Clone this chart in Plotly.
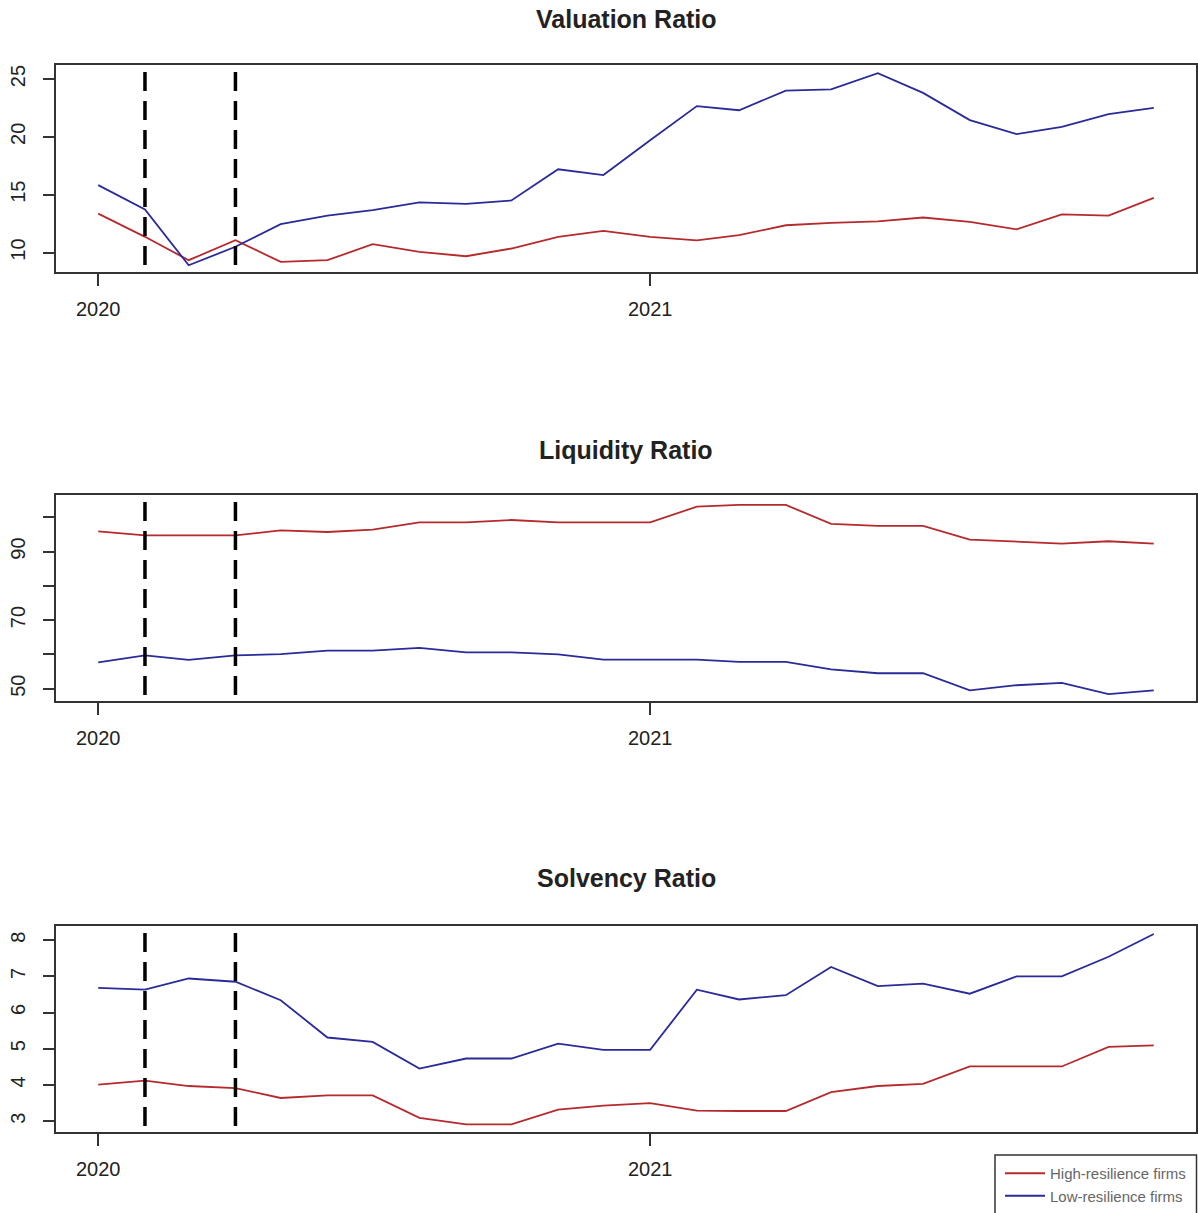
import plotly.graph_objects as go

months = ["2020-01-01", "2020-02-01", "2020-03-01", "2020-04-01", "2020-05-01", "2020-06-01",
          "2020-07-01", "2020-08-01", "2020-09-01", "2020-10-01", "2020-11-01", "2020-12-01",
          "2021-01-01", "2021-02-01", "2021-03-01", "2021-04-01", "2021-05-01", "2021-06-01",
          "2021-07-01", "2021-08-01", "2021-09-01", "2021-10-01", "2021-11-01", "2021-12-01"]

event_dates = ["2020-02-01", "2020-04-01"]

series_names = ["High-resilience firms", "Low-resilience firms"]
titles = ["Valuation Ratio", "Liquidity Ratio", "Solvency Ratio"]

valuation_high = [13.37, 11.36, 9.34, 11.07, 9.19, 9.34, 10.72, 10.06, 9.68, 10.35, 11.36, 11.87,
                  11.35, 11.06, 11.5, 12.36, 12.56, 12.7, 13.03, 12.65, 12.0, 13.3, 13.2, 14.73]
valuation_low = [15.83, 13.72, 8.9, 10.5, 12.45, 13.2, 13.66, 14.33, 14.2, 14.5, 17.2, 16.7,
                 19.7, 22.66, 22.3, 24.0, 24.1, 25.5, 23.8, 21.45, 20.24, 20.87, 21.97, 22.5]

liquidity_high = [95.9, 94.7, 94.7, 94.7, 96.2, 95.7, 96.4, 98.5, 98.5, 99.2, 98.5, 98.5,
                  98.5, 103.1, 103.6, 103.6, 98.1, 97.5, 97.5, 93.5, 93.0, 92.3, 93.0, 92.3]
liquidity_low = [57.7, 59.7, 58.4, 59.7, 60.1, 61.1, 61.1, 61.9, 60.6, 60.6, 60.0, 58.5,
                 58.5, 58.5, 57.8, 57.8, 55.6, 54.5, 54.5, 49.5, 51.0, 51.7, 48.4, 49.5]

solvency_high = [4.01, 4.12, 3.97, 3.91, 3.64, 3.71, 3.71, 3.09, 2.91, 2.91, 3.32, 3.43,
                 3.50, 3.29, 3.28, 3.28, 3.80, 3.97, 4.03, 4.51, 4.51, 4.51, 5.05, 5.09]
solvency_low = [6.68, 6.63, 6.94, 6.85, 6.34, 5.31, 5.19, 4.45, 4.73, 4.73, 5.14, 4.97,
                4.97, 6.63, 6.36, 6.48, 7.26, 6.73, 6.80, 6.52, 7.0, 7.0, 7.54, 8.17]

y_ticks = [[10, 15, 20, 25], [50, 60, 70, 80, 90, 100], [3, 4, 5, 6, 7, 8]]
y_ticktext = [["10", "15", "20", "25"], ["50", "", "70", "", "90", ""],
              ["3", "4", "5", "6", "7", "8"]]
y_ranges = [[8.32, 26.21], [46.4, 106.5], [2.70, 8.39]]
x_tickvals = ["2020-01-01", "2021-01-01"]
x_ticktext = ["2020", "2021"]
x_range = ["2019-12-04", "2021-12-29"]

RED = "#B52A2D"
BLUE = "#2A2A98"
W, H = 1198, 1213

# panel pixel boxes (top, bottom)
boxes = [(65, 272), (495, 701), (926, 1132)]
title_y = [19, 450, 878]
x0_px, x1_px = 56, 1196

data_pairs = [(valuation_high, valuation_low), (liquidity_high, liquidity_low),
              (solvency_high, solvency_low)]

fig = go.Figure()
layout = dict(width=W, height=H, margin=dict(l=0, r=0, t=0, b=0, autoexpand=False),
              paper_bgcolor="white", plot_bgcolor="white",
              font=dict(family="Liberation Sans, Arial, sans-serif", color="#222"))
shapes = []
annotations = []

for i, (hi, lo) in enumerate(data_pairs):
    n = "" if i == 0 else str(i + 1)
    xa, ya = "x" + n, "y" + n
    fig.add_trace(go.Scatter(x=months, y=hi, mode="lines", name=series_names[0],
                             line=dict(color=RED, width=1.8), xaxis=xa, yaxis=ya,
                             showlegend=(i == 0), legendrank=1))
    fig.add_trace(go.Scatter(x=months, y=lo, mode="lines", name=series_names[1],
                             line=dict(color=BLUE, width=1.8), xaxis=xa, yaxis=ya,
                             showlegend=(i == 0), legendrank=2))
    top, bot = boxes[i]
    layout["xaxis" + n] = dict(
        domain=[x0_px / W, x1_px / W], anchor=ya, type="date", range=x_range,
        tickvals=x_tickvals, ticktext=x_ticktext, ticks="outside", ticklen=12,
        tickwidth=1.5, tickcolor="#333", showgrid=False, zeroline=False,
        showline=True, linecolor="#333", linewidth=1.5, mirror=True,
        tickfont=dict(size=20, color="#222"), ticklabelstandoff=6)
    layout["yaxis" + n] = dict(
        domain=[(H - bot) / H, (H - top) / H], anchor=xa, range=y_ranges[i],
        tickvals=y_ticks[i], ticktext=y_ticktext[i], ticks="outside", ticklen=11,
        tickwidth=1.5, tickcolor="#333", showgrid=False, zeroline=False,
        showline=True, linecolor="#333", linewidth=1.5, mirror=True,
        tickangle=-90, tickfont=dict(size=20, color="#222"), ticklabelstandoff=10)
    for d in event_dates:
        shapes.append(dict(type="line", xref=xa, yref=ya + " domain", x0=d, x1=d,
                           y0=0.966, y1=0, line=dict(color="black", width=3.5,
                                                     dash="19px,10px")))
    annotations.append(dict(text="<b>" + titles[i] + "</b>", xref="paper", yref="paper",
                            x=(x0_px + x1_px) / 2 / W, y=(H - title_y[i]) / H,
                            xanchor="center", yanchor="middle", showarrow=False,
                            font=dict(size=25, color="#222")))

# legend frame (runs off the bottom edge as in the reference)
shapes.append(dict(type="rect", xref="paper", yref="paper",
                   x0=995 / W, x1=1196.5 / W, y0=-0.02, y1=(H - 1155) / H,
                   line=dict(color="#333", width=1.5), fillcolor="rgba(0,0,0,0)"))

layout["shapes"] = shapes
layout["annotations"] = annotations
layout["showlegend"] = True
layout["legend"] = dict(x=1000 / W, y=(H - 1157) / H, xanchor="left", yanchor="top",
                        borderwidth=0, bgcolor="rgba(0,0,0,0)",
                        font=dict(size=15, color="#666"), tracegroupgap=0,
                        itemwidth=40)
fig.update_layout(**layout)
fig.write_html("out.html")
